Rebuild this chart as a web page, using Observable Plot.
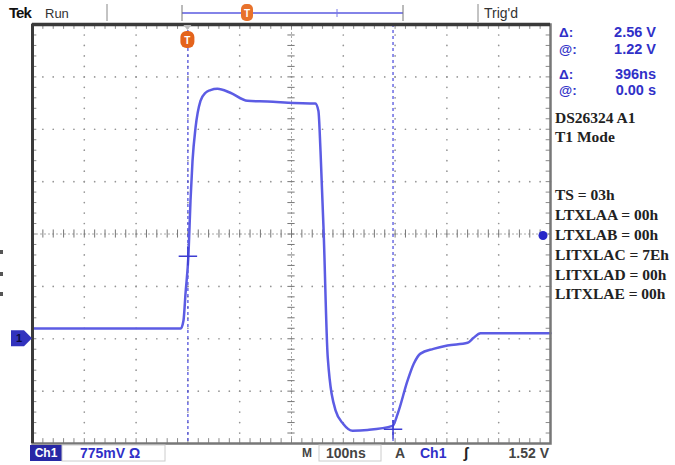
<!DOCTYPE html>
<html><head><meta charset="utf-8">
<script src="https://cdn.jsdelivr.net/npm/d3@7"></script>
<script src="https://cdn.jsdelivr.net/npm/@observablehq/plot@0.6"></script>
<style>body{margin:0;background:#fff}#chart{width:675px;height:465px;overflow:hidden}</style>
</head><body><div id="chart"></div>
<script>
// ---- data (time in ns, voltage in V) ----
const timeNs = [-300, -14, -8.5, -4.6, 1.2, 5, 8.9, 14.7, 24.3, 34, 43.6, 57, 82, 115, 154, 204, 246, 252, 256, 262, 270, 285, 300, 318, 347, 395, 405, 424, 436, 449, 474, 501, 540, 551, 565, 604, 700];
const volts  = [0.15, 0.15, 0.27, 0.67, 1.26, 2.04, 2.63, 3.12, 3.52, 3.64, 3.68, 3.70, 3.64, 3.52, 3.51, 3.49, 3.48, 3.37, 2.78, 1.60, -0.28, -1.06, -1.26, -1.36, -1.35, -1.29, -1.11, -0.62, -0.37, -0.22, -0.15, -0.10, -0.06, 0.01, 0.08, 0.08, 0.08];
const cursorTimes = [0, 396];
const cursorVolts = [1.22, -1.34];
const triggerLevel = 1.52;
const voltsPerDiv = 0.775;
const nsPerDiv = 100;
const readoutLabels = ["Δ:", "@:", "Δ:", "@:"];
const readoutValues = ["2.56 V", "1.22 V", "396ns", "0.00 s"];
const deviceLines = ["DS26324 A1", "T1 Mode"];
const registerLines = ["TS = 03h", "LTXLAA = 00h", "LTXLAB = 00h", "LITXLAC = 7Eh", "LITXLAD = 00h", "LITXLAE = 00h"];
const bottomLabels = {ch: "Ch1", scale: "775mV Ω", timebase: "100ns", trigSrc: "Ch1", trigLevel: "1.52 V"};

// ---- derived grid ----
const xDomain = [-3 * nsPerDiv, 7 * nsPerDiv];
const yDomain = [-2 * voltsPerDiv, 6 * voltsPerDiv];
const xCenter = 2 * nsPerDiv, yCenter = 2 * voltsPerDiv;
const majorT = d3.range(1, 10).map(i => xDomain[0] + i * nsPerDiv).filter(t => t !== xCenter);
const majorV = d3.range(1, 8).map(i => yDomain[0] + i * voltsPerDiv).filter(v => Math.abs(v - yCenter) > 1e-6);
const minorT = d3.range(0, 51).map(i => xDomain[0] + i * nsPerDiv / 5);
const minorV = d3.range(0, 41).map(i => yDomain[0] + i * voltsPerDiv / 5);
const trace = timeNs.map((t, i) => ({t, v: volts[i]}));
const cursors = cursorTimes.map((t, i) => ({t, v: cursorVolts[i]}));

const tx = 7, ty = 0.06; // tick half-lengths in data units
const gridDotsV = majorT.flatMap(t => minorV.map(v => ({t, v})));
const gridDotsH = majorV.flatMap(v => minorT.map(t => ({t, v})));

const gray = "#8a8a8a";
const trColor = "rgb(92,92,228)";
const blue = "rgb(48,48,200)";

const plot = Plot.plot({
  width: 675, height: 465,
  marginLeft: 32, marginRight: 125, marginTop: 24, marginBottom: 22,
  x: {domain: xDomain, axis: null},
  y: {domain: yDomain, axis: null},
  style: {background: "#fff", overflow: "visible"},
  marks: [
    Plot.dot(gridDotsV, {x: "t", y: "v", r: 0.85, fill: "#959595", stroke: "none"}),
    Plot.dot(gridDotsH, {x: "t", y: "v", r: 0.85, fill: "#959595", stroke: "none"}),
    Plot.ruleX([xCenter], {stroke: "#aaa", strokeDasharray: "2,2", strokeWidth: 1}),
    Plot.ruleY([yCenter], {stroke: "#aaa", strokeDasharray: "2,2", strokeWidth: 1}),
    Plot.ruleX(minorT, {x: d => d, y1: yCenter - ty, y2: yCenter + ty, stroke: "#777"}),
    Plot.ruleY(minorV, {y: d => d, x1: xCenter - tx, x2: xCenter + tx, stroke: "#777"}),
    Plot.ruleX(minorT, {x: d => d, y1: yDomain[0], y2: yDomain[0] + ty * 1.2, stroke: gray}),
    Plot.ruleX(minorT, {x: d => d, y1: yDomain[1], y2: yDomain[1] - ty * 1.2, stroke: gray}),
    Plot.ruleY(minorV, {y: d => d, x1: xDomain[0], x2: xDomain[0] + tx * 1.2, stroke: gray}),
    Plot.ruleY(minorV, {y: d => d, x1: xDomain[1], x2: xDomain[1] - tx * 1.2, stroke: gray}),
    Plot.ruleX(cursorTimes, {x: d => d, stroke: "rgb(70,70,220)", strokeDasharray: "3,3", strokeWidth: 1.2}),
    Plot.line(trace, {x: "t", y: "v", stroke: trColor, strokeWidth: 2.5, curve: "monotone-x"}),
    Plot.dot(cursors, {x: "t", y: "v", symbol: "plus", r: 6, stroke: "rgb(60,60,210)", strokeWidth: 1.5}),
    Plot.frame({stroke: "#777", strokeWidth: 2.5}),
    Plot.ruleY([yDomain[1]], {stroke: "#3a3a3a", strokeWidth: 3.5}),
    Plot.ruleX([xDomain[0]], {stroke: "#3a3a3a", strokeWidth: 3}),
  ]
});
document.getElementById("chart").appendChild(plot);

(function decorate() {
const sx = plot.scale("x"), sy = plot.scale("y");
const svg = d3.select(plot);
const px = t => sx.apply(t), py = v => sy.apply(v);
const fLeft = px(xDomain[0]), fRight = px(xDomain[1]), fTop = py(yDomain[1]);
const sans = "'Liberation Sans', Arial, sans-serif";
const serif = "'Liberation Serif', 'DejaVu Serif', serif";
const g = svg.append("g");

function txt(x, y, s, o = {}) {
  return g.append("text").attr("x", x).attr("y", y).attr("dy", "0.35em").text(s)
    .attr("font-family", o.family || sans).attr("font-size", o.size || 13)
    .attr("font-weight", o.weight || "normal").attr("fill", o.fill || "#222")
    .attr("text-anchor", o.anchor || "start").attr("font-style", o.style || "normal");
}

txt(9, 13, "Tek", {size: 15, weight: "bold", fill: "#111"}).attr("letter-spacing", "-1");
txt(45, 13, "Run", {size: 13, fill: "#333"});
g.append("line").attr("x1", 107).attr("x2", 107).attr("y1", 4).attr("y2", 21).attr("stroke", "#888");
g.append("line").attr("x1", 478).attr("x2", 478).attr("y1", 4).attr("y2", 22).attr("stroke", "#888");
txt(484, 13, "Trig'd", {size: 14, fill: "#333"});
const barL = fLeft + 150, barR = fLeft + 371;
g.append("line").attr("x1", barL).attr("x2", barR).attr("y1", 13).attr("y2", 13).attr("stroke", "rgb(90,90,225)").attr("stroke-width", 1.5);
g.append("line").attr("x1", barL).attr("x2", barL).attr("y1", 5).attr("y2", 21).attr("stroke", "#777");
g.append("line").attr("x1", barR).attr("x2", barR).attr("y1", 5).attr("y2", 21).attr("stroke", "#777");
g.append("line").attr("x1", 337).attr("x2", 337).attr("y1", 9).attr("y2", 17).attr("stroke", "rgb(120,120,230)");
g.append("rect").attr("x", 241).attr("y", 4).attr("width", 12).attr("height", 17).attr("rx", 5).attr("fill", "#e8722c");
txt(247, 13, "T", {size: 10, weight: "bold", fill: "#fff", anchor: "middle"});
const trigX = px(cursorTimes[0]);
g.append("path").attr("d", `M${trigX - 4},${fTop + 1}L${trigX + 4},${fTop + 1}L${trigX},${fTop + 6}Z`).attr("fill", "#bbb");
g.append("rect").attr("x", trigX - 7).attr("y", fTop + 7).attr("width", 14).attr("height", 17).attr("rx", 6).attr("fill", "#e4631c");
txt(trigX, fTop + 16, "T", {size: 10, weight: "bold", fill: "#fff", anchor: "middle"});
g.append("circle").attr("cx", fRight - 7).attr("cy", py(triggerLevel)).attr("r", 4.5).attr("fill", "rgb(40,40,200)");
const gy = py(0);
g.append("path").attr("d", `M11,${gy - 8}L24,${gy - 8}L32,${gy}L24,${gy + 8}L11,${gy + 8}Z`).attr("fill", "rgb(50,50,190)");
txt(19, gy, "1", {size: 11, weight: "bold", fill: "#0a0a40", anchor: "middle"});
[252, 274, 294].forEach(y => g.append("rect").attr("x", 0).attr("y", y - 2).attr("width", 3).attr("height", 4).attr("fill", "#555"));

const rY = [32, 49, 74, 90];
readoutLabels.forEach((l, i) => {
  txt(559, rY[i], l, {size: 13.5, weight: "bold", fill: blue});
  txt(656, rY[i], readoutValues[i], {size: 14.5, weight: "bold", fill: blue, anchor: "end"}).attr("textLength", null);
});
deviceLines.forEach((s, i) => txt(555, 118 + i * 19, s, {family: serif, size: 15.5, weight: "bold", fill: "#222"}));
registerLines.forEach((s, i) => txt(555, 195 + i * 19.8, s, {family: serif, size: 15.5, weight: "bold", fill: "#222"}));

const by = 453;
g.append("rect").attr("x", 30).attr("y", 445).attr("width", 32).attr("height", 16).attr("fill", "rgb(40,40,165)");
txt(46, by, bottomLabels.ch, {size: 12, weight: "bold", fill: "#fff", anchor: "middle"});
g.append("rect").attr("x", 62).attr("y", 445).attr("width", 103).attr("height", 16).attr("fill", "none").attr("stroke", "#ccc");
txt(80, by, bottomLabels.scale, {size: 14, weight: "bold", fill: blue});
txt(302, by, "M", {size: 12, weight: "bold", fill: "#444"});
g.append("rect").attr("x", 319).attr("y", 445).attr("width", 62).attr("height", 16).attr("fill", "none").attr("stroke", "#ccc");
txt(326, by, bottomLabels.timebase, {size: 14, weight: "bold", fill: "#444"});
txt(395, by, "A", {size: 14, weight: "bold", fill: "#444"});
txt(420, by, bottomLabels.trigSrc, {size: 14, weight: "bold", fill: blue});
txt(466, by, "ʃ", {size: 15, weight: "bold", fill: "#222", anchor: "middle"});
txt(549, by, bottomLabels.trigLevel, {size: 14, weight: "bold", fill: "#444", anchor: "end"});
})();
</script></body></html>
